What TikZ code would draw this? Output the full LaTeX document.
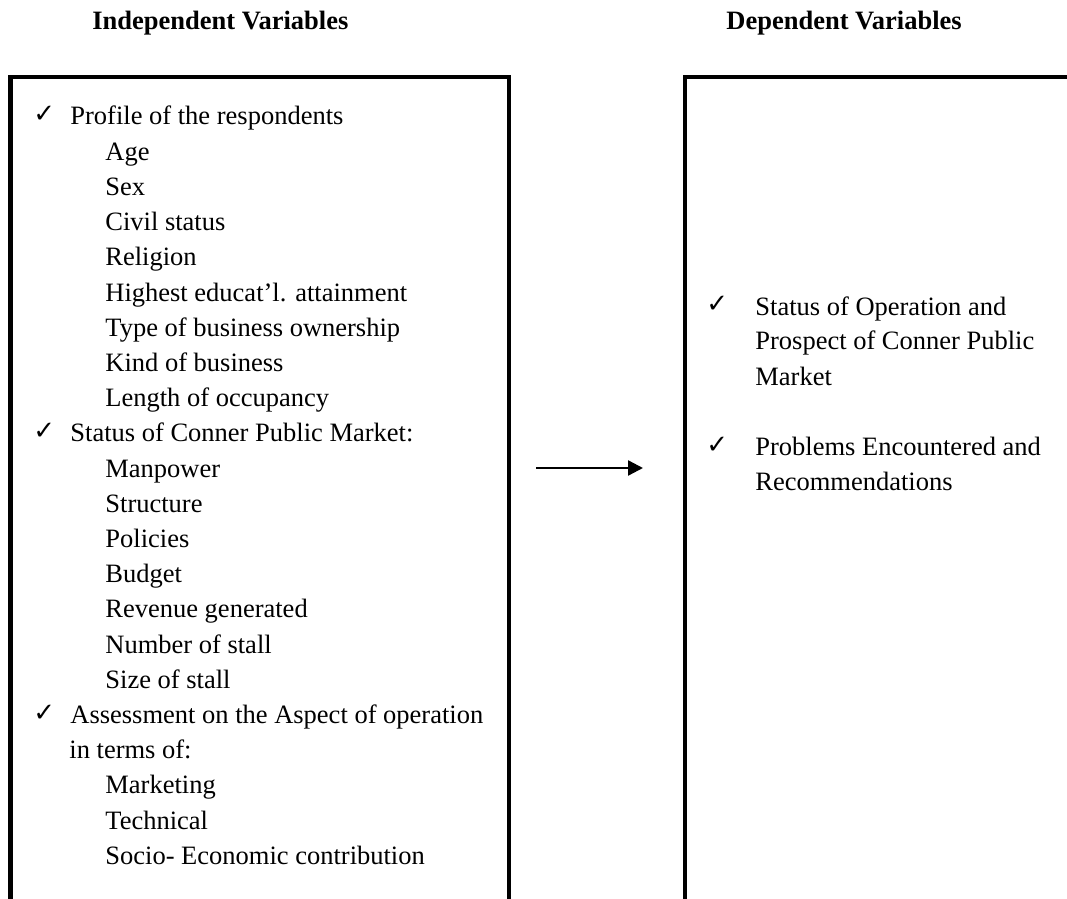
\documentclass[tikz,border=0pt]{standalone}
\usepackage{fontspec}
\setmainfont{Liberation Serif}
\newfontfamily\tickfont{DejaVu Sans}
\usetikzlibrary{arrows.meta}

\tikzset{
    box/.style={line width=2.25pt},
    txt/.style={anchor=base west, inner sep=0pt, font=\fontsize{13.25}{16}\selectfont},
    head/.style={txt, font=\fontsize{13.25}{16}\selectfont\bfseries},
    tick/.style={anchor=base west, inner sep=0pt, font=\tickfont\fontsize{13}{14}\selectfont},
}

\begin{document}
\begin{tikzpicture}[x=0.5pt,y=-0.5pt]
    \useasboundingbox (0,0) rectangle (1067,899);
    \clip (0,0) rectangle (1067,899);

    %titles
    \node[head] (indeptitle) at (92,30) {Independent Variables};
    \node[head] (deptitle) at (726,30) {Dependent Variables};

    %boxes (open at the bottom)
    \draw[box] (10.5,920) -- (10.5,77) -- (509,77) -- (509,920);
    \draw[box] (685,920) -- (685,77) -- (1090,77);

    %left list
    \foreach \t/\i in {Profile of the respondents/0, Status of Conner Public Market:/9, Assessment on the Aspect of operation/17} {
        \node[tick] (tick\i) at (33,{123+35.2*\i}) {✓};
        \node[txt] (item\i) at (70,{125+35.2*\i}) {\t};
    }
    \node[txt] (item18) at (69,{125+35.2*18}) {in terms of:};
    \foreach \t/\i in {Age/1, Sex/2, Civil status/3, Religion/4, Highest educat’l. attainment/5,
        Type of business ownership/6, Kind of business/7, Length of occupancy/8,
        Manpower/10, Structure/11, Policies/12, Budget/13, Revenue generated/14,
        Number of stall/15, Size of stall/16,
        Marketing/19, Technical/20, Socio- Economic contribution/21}
        \node[txt] (item\i) at (105,{125+35.2*\i}) {\t};

    %right list
    \node[tick] (deptick1) at (706,313) {✓};
    \node[txt] (dep1a) at (755,315) {Status of Operation and};
    \node[txt] (dep1b) at (755,350) {Prospect of Conner Public};
    \node[txt] (dep1c) at (755,385) {Market};
    \node[tick] (deptick2) at (706,453) {✓};
    \node[txt] (dep2a) at (755,455) {Problems Encountered and};
    \node[txt] (dep2b) at (755,490) {Recommendations};

    %arrow
    \coordinate (arrowstart) at (536,468);
    \coordinate (arrowend) at (643,468);
    \draw[line width=1.2pt, -{Triangle[length=7.5pt,width=7.5pt]}] (arrowstart) -- (arrowend);
\end{tikzpicture}
\end{document}
